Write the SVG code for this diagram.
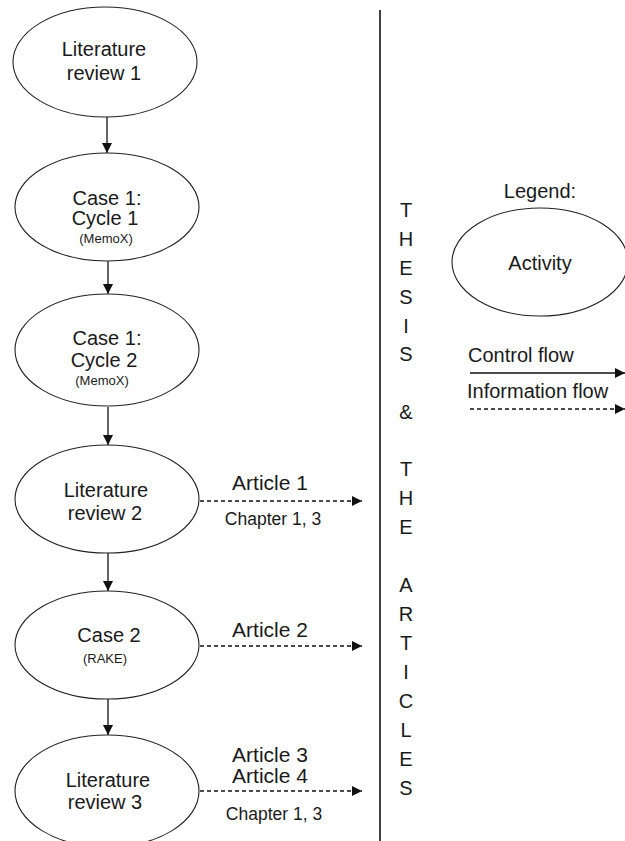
<svg xmlns="http://www.w3.org/2000/svg" width="625" height="841" viewBox="0 0 625 841">
  <style>
    .bg { fill: #ffffff; }
    .node { fill: #ffffff; stroke: #222222; stroke-width: 1.1; }
    .t { font-family: "Liberation Sans", Arial, sans-serif; fill: #1a1a1a; text-anchor: middle; }
    .lbl { font-size: 20px; }
    .small { font-size: 13px; }
    .art { font-size: 21px; }
    .chap { font-size: 17.5px; }
    .side { font-size: 20px; }
    .left { text-anchor: start; }
    .flow { stroke: #111111; stroke-width: 1.3; fill: none; }
    .info { stroke: #111111; stroke-width: 1.3; fill: none; stroke-dasharray: 4 3; }
  </style>
  <defs>
    <marker id="arrow" viewBox="0 0 10 10" refX="10" refY="5" markerWidth="10" markerHeight="11" markerUnits="userSpaceOnUse" orient="auto">
      <path d="M0,0 L10,5 L0,10 z" fill="#111111"/>
    </marker>
  </defs>

  <rect class="bg" x="0" y="0" width="625" height="841"/>

  <!-- connectors -->
  <g id="connectors">
    <line class="flow" x1="107" y1="117" x2="107" y2="153" marker-end="url(#arrow)"/>
    <line class="flow" x1="108" y1="261" x2="108" y2="294" marker-end="url(#arrow)"/>
    <line class="flow" x1="108" y1="407" x2="108" y2="445" marker-end="url(#arrow)"/>
    <line class="flow" x1="108" y1="553" x2="108" y2="591" marker-end="url(#arrow)"/>
    <line class="flow" x1="108" y1="699" x2="108" y2="735" marker-end="url(#arrow)"/>
    <line class="info" x1="200" y1="501" x2="362" y2="501" marker-end="url(#arrow)"/>
    <line class="info" x1="200" y1="646" x2="362" y2="646" marker-end="url(#arrow)"/>
    <line class="info" x1="200" y1="791" x2="362" y2="791" marker-end="url(#arrow)"/>
  </g>

  <!-- activities -->
  <g id="lit-review-1">
    <ellipse class="node" cx="105" cy="62" rx="92" ry="55"/>
    <text class="t lbl" x="104" y="56">Literature</text>
    <text class="t lbl" x="104" y="80">review 1</text>
  </g>
  <g id="case1-cycle1">
    <ellipse class="node" cx="107" cy="207" rx="92" ry="54"/>
    <text class="t lbl" x="107" y="205">Case 1:</text>
    <text class="t lbl" x="105" y="225">Cycle 1</text>
    <text class="t small" x="106" y="243">(MemoX)</text>
  </g>
  <g id="case1-cycle2">
    <ellipse class="node" cx="107" cy="350" rx="92" ry="56"/>
    <text class="t lbl" x="107" y="345">Case 1:</text>
    <text class="t lbl" x="104" y="367">Cycle 2</text>
    <text class="t small" x="102" y="385">(MemoX)</text>
  </g>
  <g id="lit-review-2">
    <ellipse class="node" cx="107" cy="499" rx="92" ry="54"/>
    <text class="t lbl" x="106" y="497">Literature</text>
    <text class="t lbl" x="105" y="520">review 2</text>
  </g>
  <g id="case2">
    <ellipse class="node" cx="107" cy="645" rx="92" ry="54"/>
    <text class="t lbl" x="109" y="642">Case 2</text>
    <text class="t small" x="105" y="663">(RAKE)</text>
  </g>
  <g id="lit-review-3">
    <ellipse class="node" cx="107" cy="791" rx="92" ry="56"/>
    <text class="t lbl" x="108" y="787">Literature</text>
    <text class="t lbl" x="105" y="809">review 3</text>
  </g>

  <!-- information flow labels -->
  <g id="outputs">
    <text class="t art" x="270" y="490">Article 1</text>
    <text class="t chap" x="273" y="525">Chapter 1, 3</text>
    <text class="t art" x="270" y="637">Article 2</text>
    <text class="t art" x="270" y="762">Article 3</text>
    <text class="t art" x="270" y="783">Article 4</text>
    <text class="t chap" x="274" y="820">Chapter 1, 3</text>
  </g>

  <!-- divider and vertical title -->
  <g id="thesis-articles">
    <line x1="380" y1="10" x2="380" y2="841" stroke="#111111" stroke-width="1.6"/>
    <text class="t side" x="406" y="217">T</text>
    <text class="t side" x="406" y="246">H</text>
    <text class="t side" x="406" y="275">E</text>
    <text class="t side" x="406" y="304">S</text>
    <text class="t side" x="406" y="333">I</text>
    <text class="t side" x="406" y="361">S</text>
    <text class="t side" x="406" y="419">&amp;</text>
    <text class="t side" x="406" y="476">T</text>
    <text class="t side" x="406" y="505">H</text>
    <text class="t side" x="406" y="534">E</text>
    <text class="t side" x="406" y="592">A</text>
    <text class="t side" x="406" y="621">R</text>
    <text class="t side" x="406" y="650">T</text>
    <text class="t side" x="406" y="679">I</text>
    <text class="t side" x="406" y="708">C</text>
    <text class="t side" x="406" y="737">L</text>
    <text class="t side" x="406" y="766">E</text>
    <text class="t side" x="406" y="795">S</text>
  </g>

  <!-- legend -->
  <g id="legend">
    <text class="t lbl" x="540" y="198">Legend:</text>
    <ellipse class="node" cx="540" cy="262" rx="88" ry="54"/>
    <text class="t lbl" x="540" y="270">Activity</text>
    <text class="t lbl left" x="468" y="362">Control flow</text>
    <line class="flow" x1="470" y1="373" x2="625" y2="373" marker-end="url(#arrow)"/>
    <text class="t lbl left" x="467" y="398">Information flow</text>
    <line class="info" x1="470" y1="409" x2="625" y2="409" marker-end="url(#arrow)"/>
  </g>
</svg>
